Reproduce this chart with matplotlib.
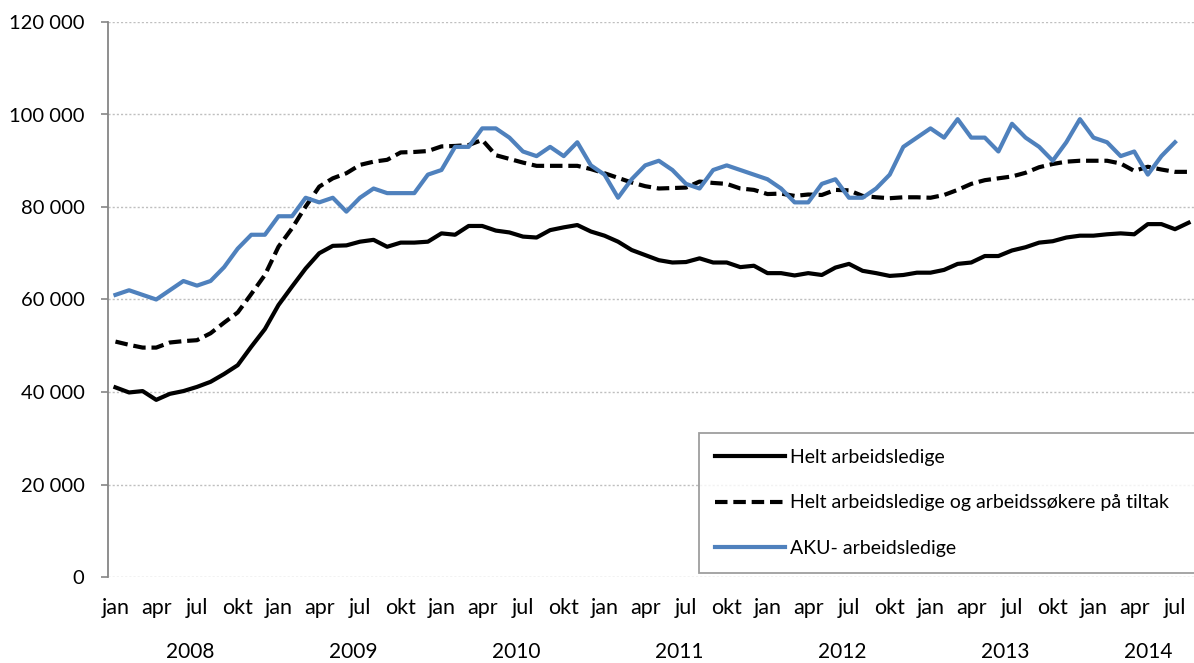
import matplotlib
matplotlib.use("Agg")
import matplotlib.pyplot as plt
from matplotlib.ticker import FuncFormatter, MultipleLocator

plt.rcParams['font.family'] = ['Lato', 'DejaVu Sans']

# ---- data (thousands of persons), monthly from jan 2008 ----
helt = [41.0, 39.9, 40.2, 38.3, 39.6, 40.2, 41.1, 42.2, 43.9, 45.8, 49.8, 53.6,
        58.8, 62.8, 66.7, 70.0, 71.6, 71.7, 72.5, 72.9, 71.4, 72.3, 72.3, 72.5,
        74.3, 74.0, 75.9, 75.9, 74.9, 74.5, 73.6, 73.4, 75.0, 75.6, 76.1, 74.7,
        73.8, 72.5, 70.7, 69.6, 68.5, 68.0, 68.1, 68.9, 68.0, 68.0, 67.0, 67.3,
        65.7, 65.7, 65.2, 65.7, 65.3, 66.9, 67.7, 66.2, 65.7, 65.1, 65.3, 65.8,
        65.8, 66.4, 67.7, 68.0, 69.4, 69.4, 70.6, 71.3, 72.3, 72.6, 73.4, 73.8,
        73.8, 74.1, 74.3, 74.1, 76.3, 76.3, 75.2, 76.6]
tiltak = [50.9, 50.2, 49.6, 49.6, 50.7, 51.0, 51.2, 52.7, 55.0, 57.2, 61.2, 65.3,
          71.4, 75.4, 80.1, 84.4, 86.2, 87.3, 89.1, 89.8, 90.2, 91.8, 91.9, 92.1,
          93.1, 93.2, 93.4, 94.5, 91.2, 90.4, 89.6, 88.9, 88.9, 88.9, 88.9, 88.2,
          87.3, 86.3, 85.3, 84.5, 84.0, 84.1, 84.2, 85.5, 85.2, 85.0, 84.0, 83.7,
          82.8, 82.9, 82.4, 82.7, 82.6, 83.7, 83.6, 82.4, 82.1, 81.9, 82.1, 82.1,
          82.0, 82.6, 83.7, 85.0, 85.8, 86.2, 86.6, 87.4, 88.6, 89.3, 89.8, 90.0,
          90.0, 90.0, 89.4, 87.8, 88.7, 88.1, 87.6, 87.6]
aku = [61, 62, 61, 60, 62, 64, 63, 64, 67, 71, 74, 74,
       78, 78, 82, 81, 82, 79, 82, 84, 83, 83, 83, 87,
       88, 93, 93, 97, 97, 95, 92, 91, 93, 91, 94, 89,
       87, 82, 86, 89, 90, 88, 85, 84, 88, 89, 88, 87,
       86, 84, 81, 81, 85, 86, 82, 82, 84, 87, 93, 95,
       97, 95, 99, 95, 95, 92, 98, 95, 93, 90, 94, 99,
       95, 94, 91, 92, 87, 91, 94]
month_labels = ['jan', 'apr', 'jul', 'okt']
years = ['2008', '2009', '2010', '2011', '2012', '2013', '2014']
series_names = ['Helt arbeidsledige',
                'Helt arbeidsledige og arbeidssøkere på tiltak',
                'AKU- arbeidsledige']

W, H = 1194, 663
FS = 14.5
fig = plt.figure(figsize=(W / 100, H / 100), dpi=100)
ax = fig.add_axes([108 / W, 1 - 577 / H, 1 - 108 / W, (577 - 22) / H])

x_h = list(range(len(helt)))
x_t = list(range(len(tiltak)))
x_a = list(range(len(aku)))

l1, = ax.plot(x_h, [v * 1000 for v in helt], color='black', lw=3.0,
              solid_joinstyle='round', label=series_names[0])
l2, = ax.plot(x_t, [v * 1000 for v in tiltak], color='black', lw=3.0,
              dashes=(3.0, 1.4), label=series_names[1])
l3, = ax.plot(x_a, [v * 1000 for v in aku], color='#4F81BD', lw=3.0,
              solid_joinstyle='round', label=series_names[2])

ax.set_xlim(-0.55, 79.4)
ax.set_ylim(0, 120000)
ax.yaxis.set_major_locator(MultipleLocator(20000))
ax.yaxis.set_major_formatter(FuncFormatter(lambda v, p: f"{int(v):,}".replace(',', ' ')))
ax.grid(axis='y', color='#BFBFBF', linestyle=(0, (1.5, 1.5)), lw=1.0)
ax.set_axisbelow(True)

for s in ['top', 'right', 'bottom']:
    ax.spines[s].set_visible(False)
ax.spines['left'].set_color('#868686')
ax.spines['left'].set_linewidth(1.3)
ax.tick_params(axis='y', direction='out', length=5, width=1.2, color='#868686',
               labelsize=FS, pad=12, labelcolor='black')

# month ticks
n_months = len(helt)
mt = list(range(0, n_months, 3))
ax.set_xticks(mt)
ax.set_xticklabels([month_labels[(i // 3) % 4] for i in mt])
ax.tick_params(axis='x', length=0, labelsize=15.5, pad=15)

# year labels
for k, yr in enumerate(years):
    start = 12 * k
    end = min(start + 11, n_months)
    xc = (start + end) / 2 if k < len(years) - 1 else 76
    ax.annotate(yr, xy=(xc, 0), xycoords=('data', 'axes fraction'),
                xytext=(0, -54), textcoords='offset points',
                ha='center', va='center', fontsize=15)

leg = ax.legend(handles=[l1, l2, l3], loc='upper left', mode='expand',
                bbox_to_anchor=(699 / W, 1 - 433 / H, (1230 - 699) / W, 0.0),
                bbox_transform=fig.transFigure,
                fontsize=14, frameon=True, fancybox=False, handlelength=3.6,
                handletextpad=0.3, labelspacing=1.48, borderpad=0.8,
                borderaxespad=0)
leg.get_frame().set_edgecolor('#868686')
leg.get_frame().set_linewidth(1.3)

fig.savefig('out.png', dpi=100)
